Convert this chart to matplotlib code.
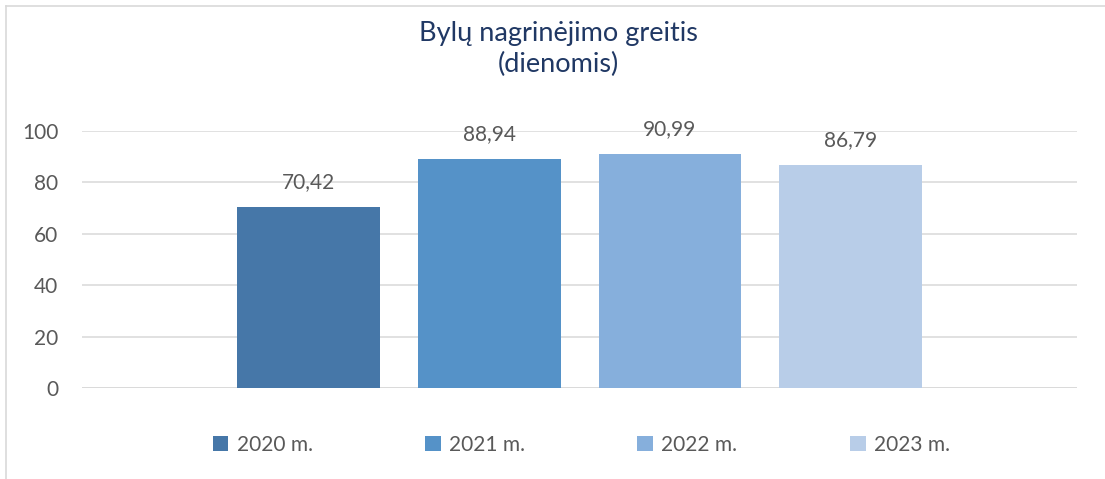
import matplotlib.pyplot as plt
from matplotlib.lines import Line2D
from matplotlib.patches import Patch

YEARS = ["2020 m.", "2021 m.", "2022 m.", "2023 m."]
DAYS = [70.42, 88.94, 90.99, 86.79]
COLORS = ["#4677a8", "#5592c8", "#86afdc", "#b8cde8"]
Y_TICKS = [0, 20, 40, 60, 80, 100]

TITLE = "Bylų nagrinėjimo greitis\n(dienomis)"
TEXT_GRAY = "#595959"
GRID_GRAY = "#d9d9d9"

plt.rcParams["font.family"] = ["Lato", "DejaVu Sans"]

fig = plt.figure(figsize=(11.05, 4.79), dpi=100)
ax = fig.add_axes([0.0742, 0.19, 0.9005, 0.5365])

positions = list(range(len(YEARS)))
bars = ax.bar(positions, DAYS, width=0.79, color=COLORS, zorder=3)

for bar, value in zip(bars, DAYS):
    ax.annotate(f"{value:.2f}".replace(".", ","),
                (bar.get_x() + bar.get_width() / 2, bar.get_height()),
                xytext=(0, 18), textcoords="offset points",
                ha="center", va="center", fontsize=15, color=TEXT_GRAY)

ax.set_xlim(-1.251, len(YEARS) - 1 + 1.251)
ax.set_ylim(0, 100)
ax.set_yticks(Y_TICKS)
ax.set_xticks([])
ax.tick_params(axis="y", length=0, pad=17, labelsize=15, labelcolor=TEXT_GRAY)
ax.grid(axis="y", color=GRID_GRAY, linewidth=1.1, zorder=0)
for spine in ax.spines.values():
    spine.set_visible(False)
ax.axhline(0, color=GRID_GRAY, linewidth=1.1, zorder=2)

fig.text(0.505, 0.898, TITLE, ha="center", va="center", fontsize=19.5,
         color="#203864", linespacing=1.3)

handles = [Patch(facecolor=c, edgecolor="none") for c in COLORS]
fig.legend(handles, YEARS, loc="center", bbox_to_anchor=(0.526, 0.072),
           ncol=4, frameon=False, fontsize=15, labelcolor=TEXT_GRAY,
           handlelength=0.75, handleheight=0.75, handletextpad=0.4,
           columnspacing=5.4)

# chart frame (only left and top edges visible in the crop)
fig.add_artist(Line2D([5.5 / 1105, 5.5 / 1105], [0, 1 - 6 / 479],
                      transform=fig.transFigure, color=GRID_GRAY, linewidth=1.2))
fig.add_artist(Line2D([5.5 / 1105, 1], [1 - 6 / 479, 1 - 6 / 479],
                      transform=fig.transFigure, color=GRID_GRAY, linewidth=1.2))

fig.savefig("out.png", dpi=100, facecolor="white")
